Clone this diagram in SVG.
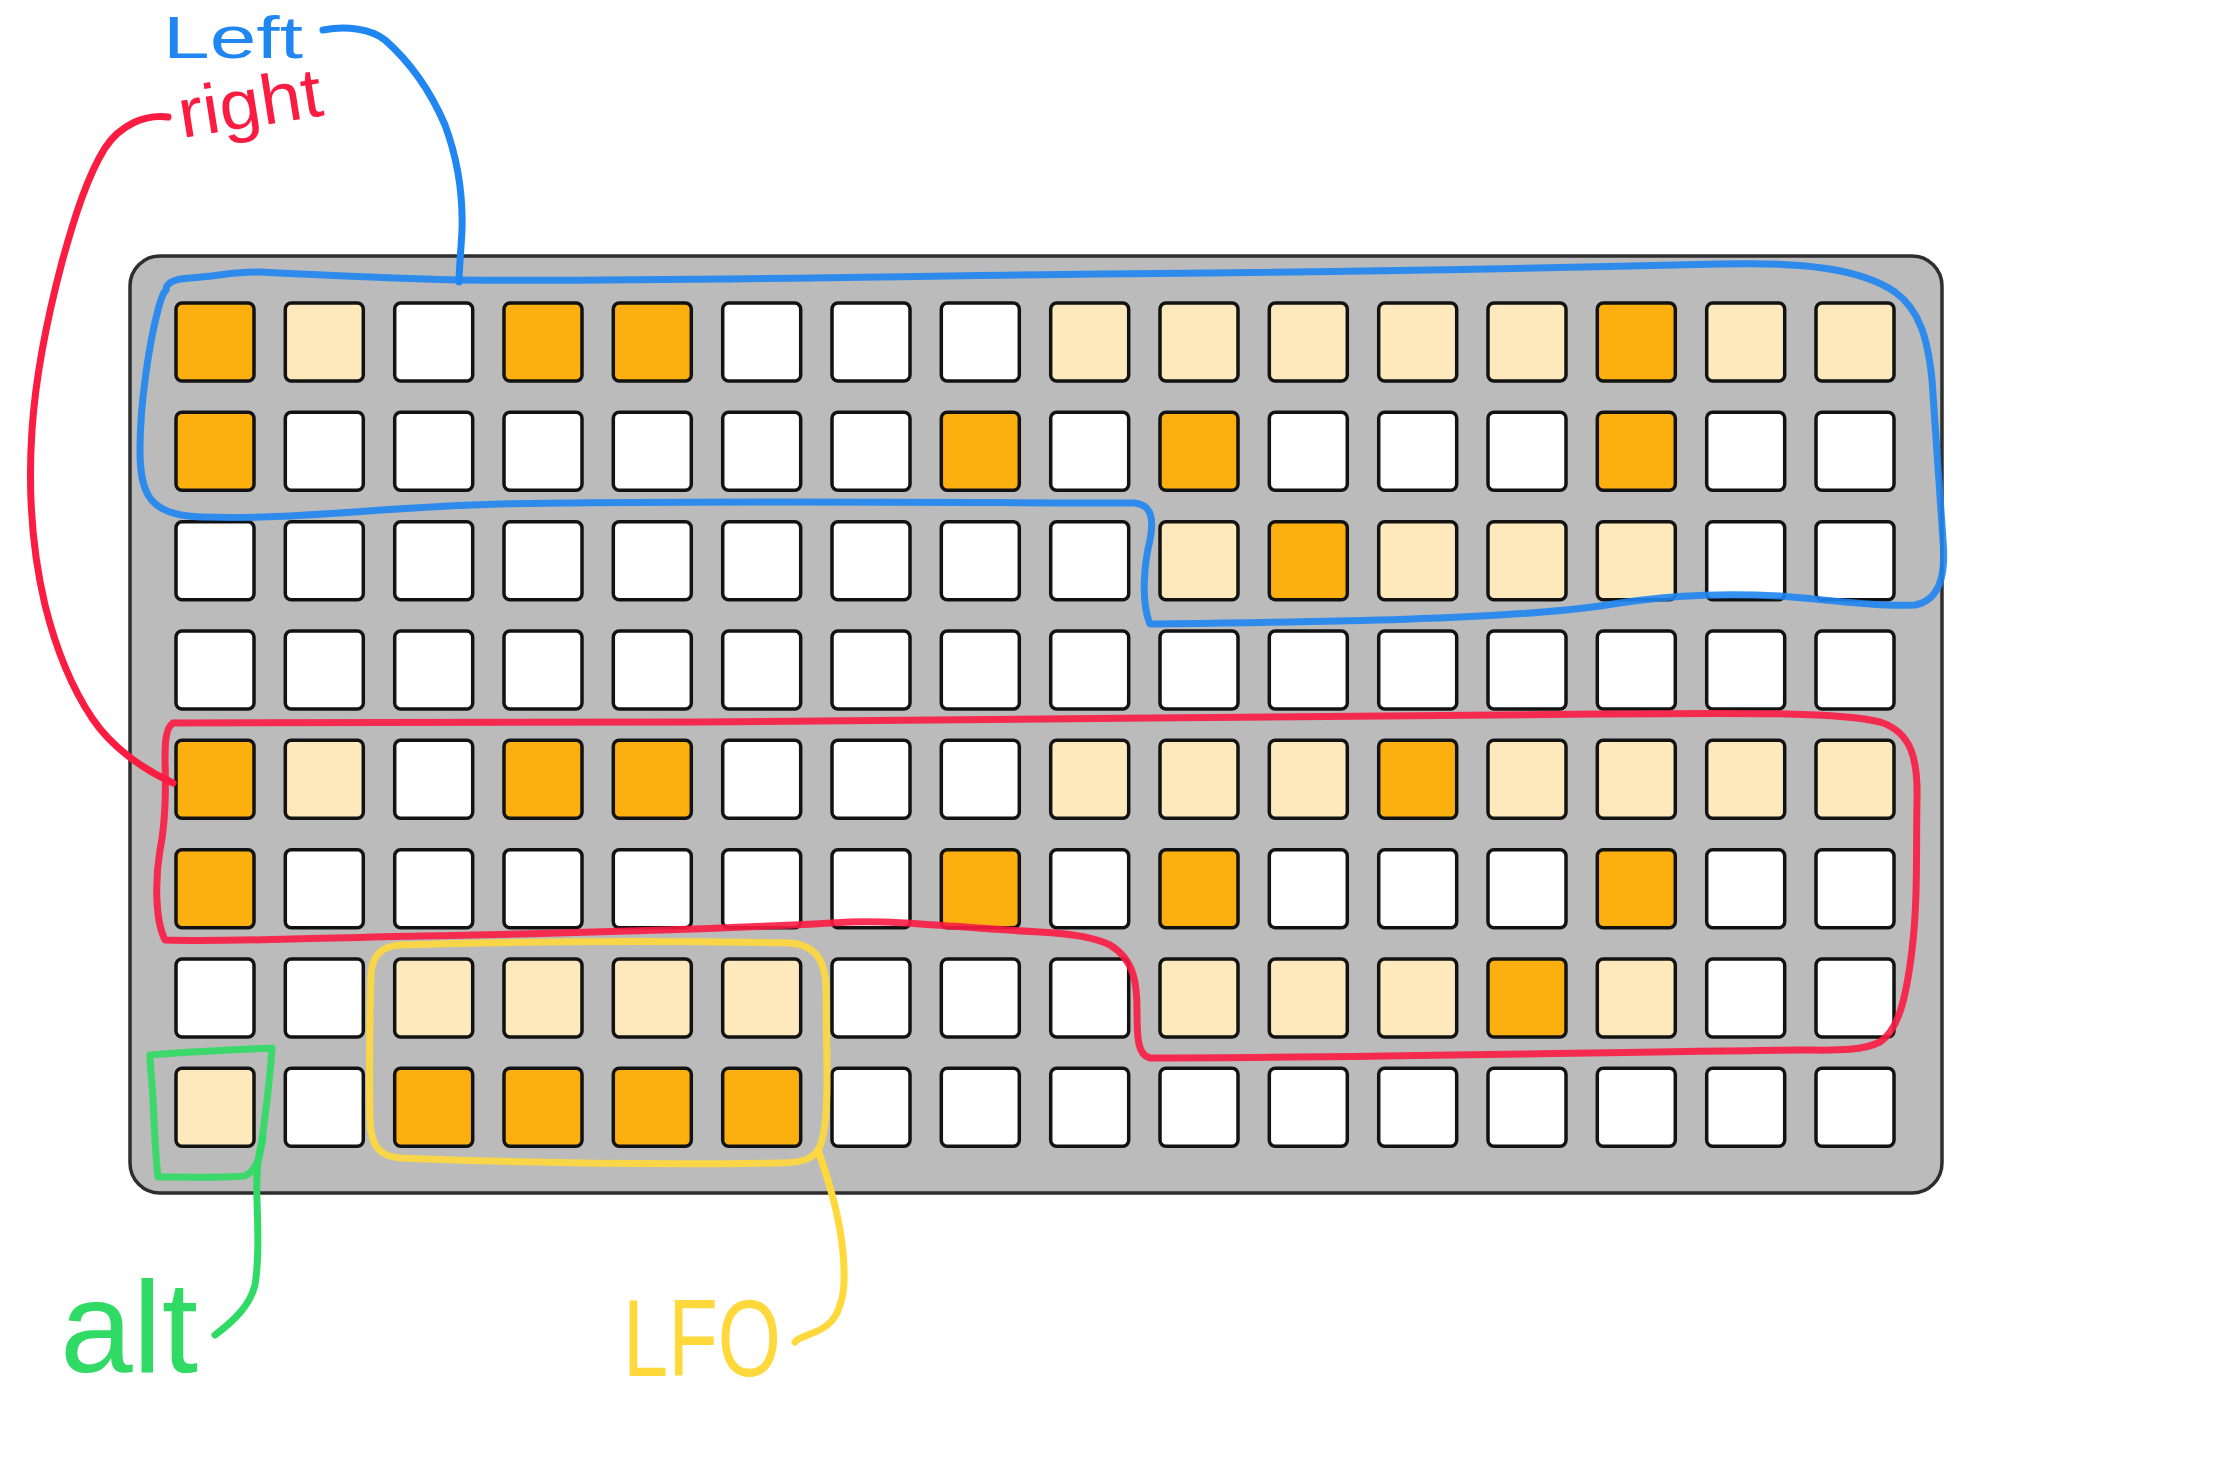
<svg xmlns="http://www.w3.org/2000/svg" width="2218" height="1475" viewBox="0 0 2218 1475">
<style>
.bd{fill:#bbbbbb;stroke:#2e2e2e;stroke-width:3.5}
.c{stroke:#121212;stroke-width:3.5}
.o{fill:#fcb00f}
.l{fill:#fee9bd}
.w{fill:#ffffff}
.ln{fill:none;stroke-width:7;stroke-linecap:round;stroke-linejoin:round}
.blue{stroke:#1f86f2}
.red{stroke:#fb1c42}
.grn{stroke:#2fdb64}
.yel{stroke:#ffd93c}
.in{opacity:0.9}
.t{font-family:"Liberation Sans","DejaVu Sans",sans-serif}
</style>
<rect width="2218" height="1475" fill="#ffffff"/>
<g id="board">
<rect class="bd" x="130" y="256" width="1812" height="937" rx="30"/>
</g>
<g id="cells">
<g id="row0" transform="translate(0,303)">
<rect class="c o" x="176" y="0" width="78" height="78" rx="6"/><rect class="c l" x="285.3" y="0" width="78" height="78" rx="6"/><rect class="c w" x="394.7" y="0" width="78" height="78" rx="6"/><rect class="c o" x="504" y="0" width="78" height="78" rx="6"/><rect class="c o" x="613.3" y="0" width="78" height="78" rx="6"/><rect class="c w" x="722.7" y="0" width="78" height="78" rx="6"/><rect class="c w" x="832" y="0" width="78" height="78" rx="6"/><rect class="c w" x="941.3" y="0" width="78" height="78" rx="6"/><rect class="c l" x="1050.7" y="0" width="78" height="78" rx="6"/><rect class="c l" x="1160" y="0" width="78" height="78" rx="6"/><rect class="c l" x="1269.3" y="0" width="78" height="78" rx="6"/><rect class="c l" x="1378.7" y="0" width="78" height="78" rx="6"/><rect class="c l" x="1488" y="0" width="78" height="78" rx="6"/><rect class="c o" x="1597.3" y="0" width="78" height="78" rx="6"/><rect class="c l" x="1706.7" y="0" width="78" height="78" rx="6"/><rect class="c l" x="1816" y="0" width="78" height="78" rx="6"/>
</g>
<g id="row1" transform="translate(0,412.3)">
<rect class="c o" x="176" y="0" width="78" height="78" rx="6"/><rect class="c w" x="285.3" y="0" width="78" height="78" rx="6"/><rect class="c w" x="394.7" y="0" width="78" height="78" rx="6"/><rect class="c w" x="504" y="0" width="78" height="78" rx="6"/><rect class="c w" x="613.3" y="0" width="78" height="78" rx="6"/><rect class="c w" x="722.7" y="0" width="78" height="78" rx="6"/><rect class="c w" x="832" y="0" width="78" height="78" rx="6"/><rect class="c o" x="941.3" y="0" width="78" height="78" rx="6"/><rect class="c w" x="1050.7" y="0" width="78" height="78" rx="6"/><rect class="c o" x="1160" y="0" width="78" height="78" rx="6"/><rect class="c w" x="1269.3" y="0" width="78" height="78" rx="6"/><rect class="c w" x="1378.7" y="0" width="78" height="78" rx="6"/><rect class="c w" x="1488" y="0" width="78" height="78" rx="6"/><rect class="c o" x="1597.3" y="0" width="78" height="78" rx="6"/><rect class="c w" x="1706.7" y="0" width="78" height="78" rx="6"/><rect class="c w" x="1816" y="0" width="78" height="78" rx="6"/>
</g>
<g id="row2" transform="translate(0,521.7)">
<rect class="c w" x="176" y="0" width="78" height="78" rx="6"/><rect class="c w" x="285.3" y="0" width="78" height="78" rx="6"/><rect class="c w" x="394.7" y="0" width="78" height="78" rx="6"/><rect class="c w" x="504" y="0" width="78" height="78" rx="6"/><rect class="c w" x="613.3" y="0" width="78" height="78" rx="6"/><rect class="c w" x="722.7" y="0" width="78" height="78" rx="6"/><rect class="c w" x="832" y="0" width="78" height="78" rx="6"/><rect class="c w" x="941.3" y="0" width="78" height="78" rx="6"/><rect class="c w" x="1050.7" y="0" width="78" height="78" rx="6"/><rect class="c l" x="1160" y="0" width="78" height="78" rx="6"/><rect class="c o" x="1269.3" y="0" width="78" height="78" rx="6"/><rect class="c l" x="1378.7" y="0" width="78" height="78" rx="6"/><rect class="c l" x="1488" y="0" width="78" height="78" rx="6"/><rect class="c l" x="1597.3" y="0" width="78" height="78" rx="6"/><rect class="c w" x="1706.7" y="0" width="78" height="78" rx="6"/><rect class="c w" x="1816" y="0" width="78" height="78" rx="6"/>
</g>
<g id="row3" transform="translate(0,631)">
<rect class="c w" x="176" y="0" width="78" height="78" rx="6"/><rect class="c w" x="285.3" y="0" width="78" height="78" rx="6"/><rect class="c w" x="394.7" y="0" width="78" height="78" rx="6"/><rect class="c w" x="504" y="0" width="78" height="78" rx="6"/><rect class="c w" x="613.3" y="0" width="78" height="78" rx="6"/><rect class="c w" x="722.7" y="0" width="78" height="78" rx="6"/><rect class="c w" x="832" y="0" width="78" height="78" rx="6"/><rect class="c w" x="941.3" y="0" width="78" height="78" rx="6"/><rect class="c w" x="1050.7" y="0" width="78" height="78" rx="6"/><rect class="c w" x="1160" y="0" width="78" height="78" rx="6"/><rect class="c w" x="1269.3" y="0" width="78" height="78" rx="6"/><rect class="c w" x="1378.7" y="0" width="78" height="78" rx="6"/><rect class="c w" x="1488" y="0" width="78" height="78" rx="6"/><rect class="c w" x="1597.3" y="0" width="78" height="78" rx="6"/><rect class="c w" x="1706.7" y="0" width="78" height="78" rx="6"/><rect class="c w" x="1816" y="0" width="78" height="78" rx="6"/>
</g>
<g id="row4" transform="translate(0,740.3)">
<rect class="c o" x="176" y="0" width="78" height="78" rx="6"/><rect class="c l" x="285.3" y="0" width="78" height="78" rx="6"/><rect class="c w" x="394.7" y="0" width="78" height="78" rx="6"/><rect class="c o" x="504" y="0" width="78" height="78" rx="6"/><rect class="c o" x="613.3" y="0" width="78" height="78" rx="6"/><rect class="c w" x="722.7" y="0" width="78" height="78" rx="6"/><rect class="c w" x="832" y="0" width="78" height="78" rx="6"/><rect class="c w" x="941.3" y="0" width="78" height="78" rx="6"/><rect class="c l" x="1050.7" y="0" width="78" height="78" rx="6"/><rect class="c l" x="1160" y="0" width="78" height="78" rx="6"/><rect class="c l" x="1269.3" y="0" width="78" height="78" rx="6"/><rect class="c o" x="1378.7" y="0" width="78" height="78" rx="6"/><rect class="c l" x="1488" y="0" width="78" height="78" rx="6"/><rect class="c l" x="1597.3" y="0" width="78" height="78" rx="6"/><rect class="c l" x="1706.7" y="0" width="78" height="78" rx="6"/><rect class="c l" x="1816" y="0" width="78" height="78" rx="6"/>
</g>
<g id="row5" transform="translate(0,849.7)">
<rect class="c o" x="176" y="0" width="78" height="78" rx="6"/><rect class="c w" x="285.3" y="0" width="78" height="78" rx="6"/><rect class="c w" x="394.7" y="0" width="78" height="78" rx="6"/><rect class="c w" x="504" y="0" width="78" height="78" rx="6"/><rect class="c w" x="613.3" y="0" width="78" height="78" rx="6"/><rect class="c w" x="722.7" y="0" width="78" height="78" rx="6"/><rect class="c w" x="832" y="0" width="78" height="78" rx="6"/><rect class="c o" x="941.3" y="0" width="78" height="78" rx="6"/><rect class="c w" x="1050.7" y="0" width="78" height="78" rx="6"/><rect class="c o" x="1160" y="0" width="78" height="78" rx="6"/><rect class="c w" x="1269.3" y="0" width="78" height="78" rx="6"/><rect class="c w" x="1378.7" y="0" width="78" height="78" rx="6"/><rect class="c w" x="1488" y="0" width="78" height="78" rx="6"/><rect class="c o" x="1597.3" y="0" width="78" height="78" rx="6"/><rect class="c w" x="1706.7" y="0" width="78" height="78" rx="6"/><rect class="c w" x="1816" y="0" width="78" height="78" rx="6"/>
</g>
<g id="row6" transform="translate(0,959)">
<rect class="c w" x="176" y="0" width="78" height="78" rx="6"/><rect class="c w" x="285.3" y="0" width="78" height="78" rx="6"/><rect class="c l" x="394.7" y="0" width="78" height="78" rx="6"/><rect class="c l" x="504" y="0" width="78" height="78" rx="6"/><rect class="c l" x="613.3" y="0" width="78" height="78" rx="6"/><rect class="c l" x="722.7" y="0" width="78" height="78" rx="6"/><rect class="c w" x="832" y="0" width="78" height="78" rx="6"/><rect class="c w" x="941.3" y="0" width="78" height="78" rx="6"/><rect class="c w" x="1050.7" y="0" width="78" height="78" rx="6"/><rect class="c l" x="1160" y="0" width="78" height="78" rx="6"/><rect class="c l" x="1269.3" y="0" width="78" height="78" rx="6"/><rect class="c l" x="1378.7" y="0" width="78" height="78" rx="6"/><rect class="c o" x="1488" y="0" width="78" height="78" rx="6"/><rect class="c l" x="1597.3" y="0" width="78" height="78" rx="6"/><rect class="c w" x="1706.7" y="0" width="78" height="78" rx="6"/><rect class="c w" x="1816" y="0" width="78" height="78" rx="6"/>
</g>
<g id="row7" transform="translate(0,1068.3)">
<rect class="c l" x="176" y="0" width="78" height="78" rx="6"/><rect class="c w" x="285.3" y="0" width="78" height="78" rx="6"/><rect class="c o" x="394.7" y="0" width="78" height="78" rx="6"/><rect class="c o" x="504" y="0" width="78" height="78" rx="6"/><rect class="c o" x="613.3" y="0" width="78" height="78" rx="6"/><rect class="c o" x="722.7" y="0" width="78" height="78" rx="6"/><rect class="c w" x="832" y="0" width="78" height="78" rx="6"/><rect class="c w" x="941.3" y="0" width="78" height="78" rx="6"/><rect class="c w" x="1050.7" y="0" width="78" height="78" rx="6"/><rect class="c w" x="1160" y="0" width="78" height="78" rx="6"/><rect class="c w" x="1269.3" y="0" width="78" height="78" rx="6"/><rect class="c w" x="1378.7" y="0" width="78" height="78" rx="6"/><rect class="c w" x="1488" y="0" width="78" height="78" rx="6"/><rect class="c w" x="1597.3" y="0" width="78" height="78" rx="6"/><rect class="c w" x="1706.7" y="0" width="78" height="78" rx="6"/><rect class="c w" x="1816" y="0" width="78" height="78" rx="6"/>
</g>
</g>
<g id="group-left">
<path class="ln blue in" d="M166,290 C166,282 175,279 190,278 C220,276 235,271 260,272 C320,275 380,278 460,280 C650,282 900,276 1100,274 C1350,272 1550,268 1720,264 C1800,262 1860,268 1895,292 C1920,310 1928,340 1932,380 C1936,440 1940,500 1943,540 C1946,575 1940,600 1915,605 C1880,607 1830,600 1780,596 C1700,592 1650,598 1600,606 C1500,620 1300,622 1150,624 C1140,600 1145,560 1150,540 C1154,520 1152,505 1135,503 C1000,503 700,500 500,504 C380,507 300,520 200,517 C150,515 140,495 140,450 C140,400 150,340 158,310 C161,298 164,292 166,290"/>
</g>
<g id="group-right">
<path class="ln red in" d="M173,723 C300,724 500,722 700,722 C1000,720 1300,716 1600,714 C1750,713 1840,712 1880,722 C1912,732 1918,760 1917,800 C1916,850 1918,900 1912,950 C1906,1000 1898,1030 1880,1042 C1860,1052 1830,1050 1800,1050 C1600,1052 1350,1058 1150,1058 C1138,1055 1137,1040 1137,1010 C1137,985 1135,960 1110,945 C1090,935 1060,933 1040,932 C960,928 900,920 850,922 C750,928 550,934 420,936 C320,938 230,942 165,940 C155,920 155,880 160,850 C166,820 166,790 165,760 C165,740 166,728 173,723"/>
</g>
<g id="group-lfo">
<path class="ln yel in" d="M400,945 C500,942 650,940 790,943 C815,945 826,960 826,990 C826,1050 830,1110 822,1140 C818,1158 805,1163 780,1163 C650,1165 500,1162 400,1158 C378,1156 371,1145 370,1120 C369,1070 370,1010 371,975 C372,955 382,946 400,945"/>
</g>
<g id="group-alt">
<path class="ln grn in" d="M150,1055 C180,1052 230,1050 272,1048 C270,1080 266,1110 262,1140 C260,1160 256,1170 245,1176 C220,1178 180,1177 158,1177 C155,1150 154,1120 153,1100 C152,1080 150,1065 150,1055"/>
</g>
<g id="connectors">
<path class="ln blue" d="M323,30 C345,26 370,28 385,40 C410,62 430,90 445,125 C458,160 463,195 462,230 C461,250 459,270 459,282"/>
<path class="ln red" d="M168,117 C145,114 120,125 105,148 C88,175 75,215 62,262 C48,315 36,370 32,430 C28,490 32,550 45,605 C55,645 70,685 92,718 C110,745 140,768 173,783"/>
<path class="ln grn" d="M263,1138 C258,1155 256,1170 257,1200 C258,1230 259,1260 255,1285 C250,1305 235,1320 215,1335"/>
<path class="ln yel" d="M818,1150 C825,1170 835,1200 840,1230 C845,1260 846,1290 840,1305 C835,1322 825,1328 813,1333 C805,1336 798,1338 795,1342"/>
</g>
<g id="labels">
<text class="t" x="163" y="58" font-size="60" fill="#1f86f2" textLength="140" lengthAdjust="spacingAndGlyphs">Left</text>
<text class="t" x="182" y="138" font-size="70" fill="#fb1c42" textLength="145" lengthAdjust="spacingAndGlyphs" transform="rotate(-9 182 138)">right</text>
<text class="t" x="60" y="1372" font-size="130" fill="#2fdb64" textLength="138" lengthAdjust="spacingAndGlyphs">alt</text>
<text class="t" x="623" y="1376" font-size="110" fill="#ffd93c" textLength="158" lengthAdjust="spacingAndGlyphs">LFO</text>
</g>
</svg>
